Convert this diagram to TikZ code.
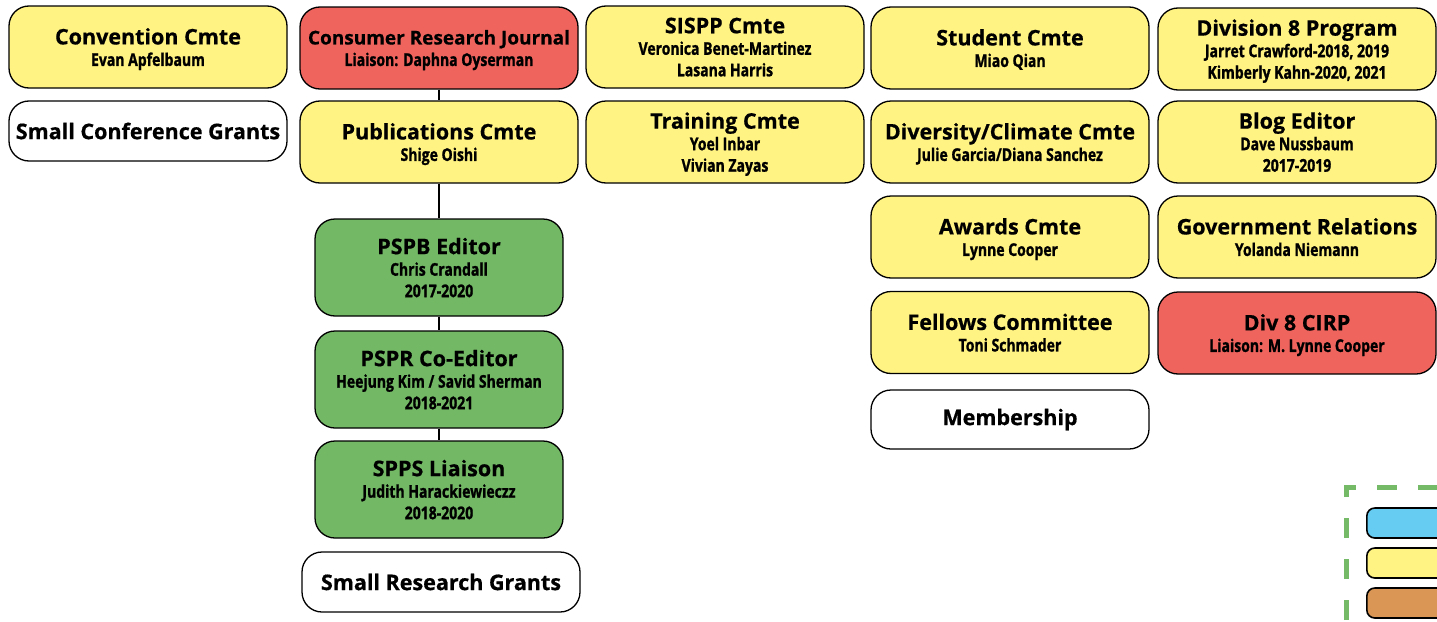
\documentclass[tikz,border=0pt]{standalone}
\usepackage{fontspec}
\setmainfont{Open Sans}[BoldFeatures={FakeBold=0.6}]
\newfontfamily\namefont{Open Sans}[FakeStretch=0.8, BoldFeatures={FakeBold=1.2}]
\usetikzlibrary{positioning}

\definecolor{cmteyellow}{HTML}{FFF383}
\definecolor{liaisonred}{HTML}{F0645E}
\definecolor{pubgreen}{HTML}{72B865}
\definecolor{legendblue}{HTML}{66CCF2}
\definecolor{legendbrown}{HTML}{D99655}
\definecolor{dashgreen}{HTML}{74BA67}

\newcommand{\ttl}[1]{{\fontsize{21.5}{22}\selectfont\bfseries #1}}
\newcommand{\nm}[1]{{\namefont\bfseries #1}}

\begin{document}
\begin{tikzpicture}[
    x=1pt, y=-1pt,
    box/.style={draw=black, line width=1.3pt, rounded corners=20pt,
        minimum width=278pt, minimum height=82pt, inner sep=0pt,
        align=center, font=\fontsize{17.5}{21.5}\selectfont},
    yellowbox/.style={box, fill=cmteyellow, text depth=0pt},
    redbox/.style={box, fill=liaisonred, text depth=0pt},
    greenbox/.style={box, fill=pubgreen, text depth=0pt, minimum width=248pt, minimum height=97pt},
    whitebox/.style={box, fill=white, minimum height=60pt},
    keybox/.style={draw=black, line width=1.6pt, rounded corners=8pt,
        minimum width=120pt, minimum height=30pt, inner sep=0pt},
    link/.style={line width=1.2pt}
]
    \useasboundingbox (0,0) rectangle (1437,621);
    \clip (0,0) rectangle (1437,621);

    % === Column 1 ===
    \node[yellowbox] (conv) at (148, 47) {\ttl{Convention Cmte}\\\nm{Evan Apfelbaum}};
    \node[whitebox] (scg) at (148, 131) {\ttl{Small Conference Grants}};

    % === Column 2: publications ===
    \node[redbox] (crj) at (439, 48) {{\fontsize{19}{22}\selectfont\bfseries Consumer Research Journal}\\\nm{Liaison: Daphna Oyserman}};
    \node[yellowbox] (pub) at (439, 142) {\ttl{Publications Cmte}\\\nm{Shige Oishi}};
    \node[greenbox] (pspb) at (439, 267.5) {\ttl{PSPB Editor}\\\nm{Chris Crandall}\\\nm{2017-2020}};
    \node[greenbox] (pspr) at (439, 379.5) {\ttl{PSPR Co-Editor}\\\nm{Heejung Kim / Savid Sherman}\\\nm{2018-2021}};
    \node[greenbox] (spps) at (439, 489.5) {\ttl{SPPS Liaison}\\\nm{Judith Harackiewieczz}\\\nm{2018-2020}};
    \node[whitebox] (srg) at (441, 582) {\ttl{Small Research Grants}};

    \draw[link] (crj) -- (pub);
    \draw[link] (pub) -- (pspb);
    \draw[link] (pspb) -- (pspr);
    \draw[link] (pspr) -- (spps);

    % === Column 3 ===
    \node[yellowbox] (sispp) at (725, 47) {\ttl{SISPP Cmte}\\\nm{Veronica Benet-Martinez}\\\nm{Lasana Harris}};
    \node[yellowbox] (train) at (725, 142) {\ttl{Training Cmte}\\\nm{Yoel Inbar}\\\nm{Vivian Zayas}};

    % === Column 4 ===
    \node[yellowbox] (stud) at (1010, 48) {\ttl{Student Cmte}\\\nm{Miao Qian}};
    \node[yellowbox] (divers) at (1010, 142) {\ttl{Diversity/Climate Cmte}\\\nm{Julie Garcia/Diana Sanchez}};
    \node[yellowbox] (awards) at (1010, 237) {\ttl{Awards Cmte}\\\nm{Lynne Cooper}};
    \node[yellowbox] (fellows) at (1010, 332.5) {\ttl{Fellows Committee}\\\nm{Toni Schmader}};
    \node[whitebox, minimum height=59pt] (memb) at (1010, 419.5) {\ttl{Membership}};

    % === Column 5 ===
    \node[yellowbox] (prog) at (1297, 49) {\ttl{Division 8 Program}\\\nm{Jarret Crawford-2018, 2019}\\\nm{Kimberly Kahn-2020, 2021}};
    \node[yellowbox] (blog) at (1297, 142) {\ttl{Blog Editor}\\\nm{Dave Nussbaum}\\\nm{2017-2019}};
    \node[yellowbox] (gov) at (1297, 237) {\ttl{Government Relations}\\\nm{Yolanda Niemann}};
    \node[redbox] (cirp) at (1297, 333) {\ttl{Div 8 CIRP}\\\nm{Liaison: M. Lynne Cooper}};

    % === Legend ===
    \draw[dashgreen, line width=5pt, dash pattern=on 20pt off 21pt] (1346, 620) -- (1346, 487) -- (1480, 487);
    \node[keybox, fill=legendblue, anchor=west] (keyblue) at (1366, 523) {};
    \node[keybox, fill=cmteyellow, anchor=west] (keyyellow) at (1366, 563) {};
    \node[keybox, fill=legendbrown, anchor=west] (keybrown) at (1366, 603) {};
\end{tikzpicture}
\end{document}
